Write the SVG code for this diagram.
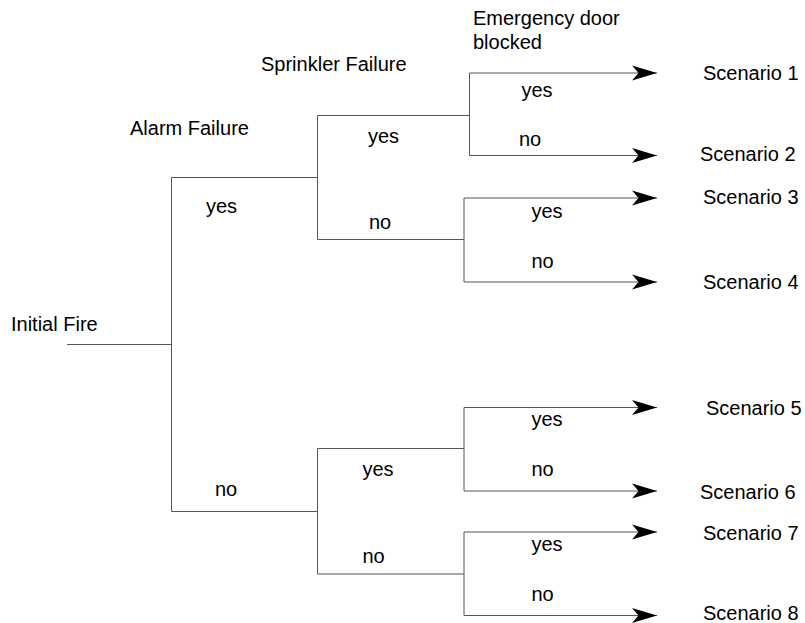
<svg xmlns="http://www.w3.org/2000/svg" width="805" height="623" viewBox="0 0 805 623">
<style>
text{font-family:"Liberation Sans",Arial,Helvetica,sans-serif;font-size:20px;fill:#000}
.ln{fill:none;stroke:#555;stroke-width:1}
</style>
<defs>
<marker id="ah" markerUnits="userSpaceOnUse" markerWidth="28" markerHeight="18" refX="25" refY="8" orient="auto">
<path d="M25,8 L0,0.5 L6.5,8 L0,15.5 Z" fill="#000"/>
</marker>
</defs>
<rect width="805" height="623" fill="#fff"/>
<g id="connectors">
<path class="ln" d="M67,344.5 H171.5"/>
<path class="ln" d="M317.5,177.5 H171.5 V511.5 H317.5"/>
<path class="ln" d="M469.5,115.5 H317.5 V239.5 H464"/>
<path class="ln" d="M464,448.5 H317.5 V574 H464"/>
<path class="ln" d="M469.5,73 V155.5"/>
<path class="ln" d="M464,198 V282"/>
<path class="ln" d="M464,407.5 V491"/>
<path class="ln" d="M464,532 V615.5"/>
<path class="ln" d="M469.5,73 H657" marker-end="url(#ah)"/>
<path class="ln" d="M469.5,155.5 H657" marker-end="url(#ah)"/>
<path class="ln" d="M464,198 H657" marker-end="url(#ah)"/>
<path class="ln" d="M464,282 H657" marker-end="url(#ah)"/>
<path class="ln" d="M464,407.5 H657" marker-end="url(#ah)"/>
<path class="ln" d="M464,491 H657" marker-end="url(#ah)"/>
<path class="ln" d="M464,532 H657" marker-end="url(#ah)"/>
<path class="ln" d="M464,615.5 H657" marker-end="url(#ah)"/>
</g>
<g id="headers">
<text x="11" y="331">Initial Fire</text>
<text x="130" y="135">Alarm Failure</text>
<text x="261" y="71">Sprinkler Failure</text>
<text x="473" y="25">Emergency door</text>
<text x="473" y="49">blocked</text>
</g>
<g id="labels">
<text x="206" y="212.5">yes</text>
<text x="215" y="495.5">no</text>
<text x="368" y="142.5">yes</text>
<text x="369" y="228.5">no</text>
<text x="362.5" y="476">yes</text>
<text x="362.5" y="562.5">no</text>
<text x="521.5" y="96.5">yes</text>
<text x="519" y="145.5">no</text>
<text x="531.5" y="217.5">yes</text>
<text x="531.5" y="267.5">no</text>
<text x="531.5" y="426">yes</text>
<text x="531.5" y="476">no</text>
<text x="531.5" y="551">yes</text>
<text x="531.5" y="601">no</text>
</g>
<g id="scenario1"><text x="703" y="80">Scenario 1</text></g>
<g id="scenario2"><text x="700" y="161">Scenario 2</text></g>
<g id="scenario3"><text x="703" y="203.5">Scenario 3</text></g>
<g id="scenario4"><text x="703" y="289">Scenario 4</text></g>
<g id="scenario5"><text x="706" y="414.5">Scenario 5</text></g>
<g id="scenario6"><text x="700" y="499">Scenario 6</text></g>
<g id="scenario7"><text x="703" y="540">Scenario 7</text></g>
<g id="scenario8"><text x="703" y="620">Scenario 8</text></g>
</svg>
